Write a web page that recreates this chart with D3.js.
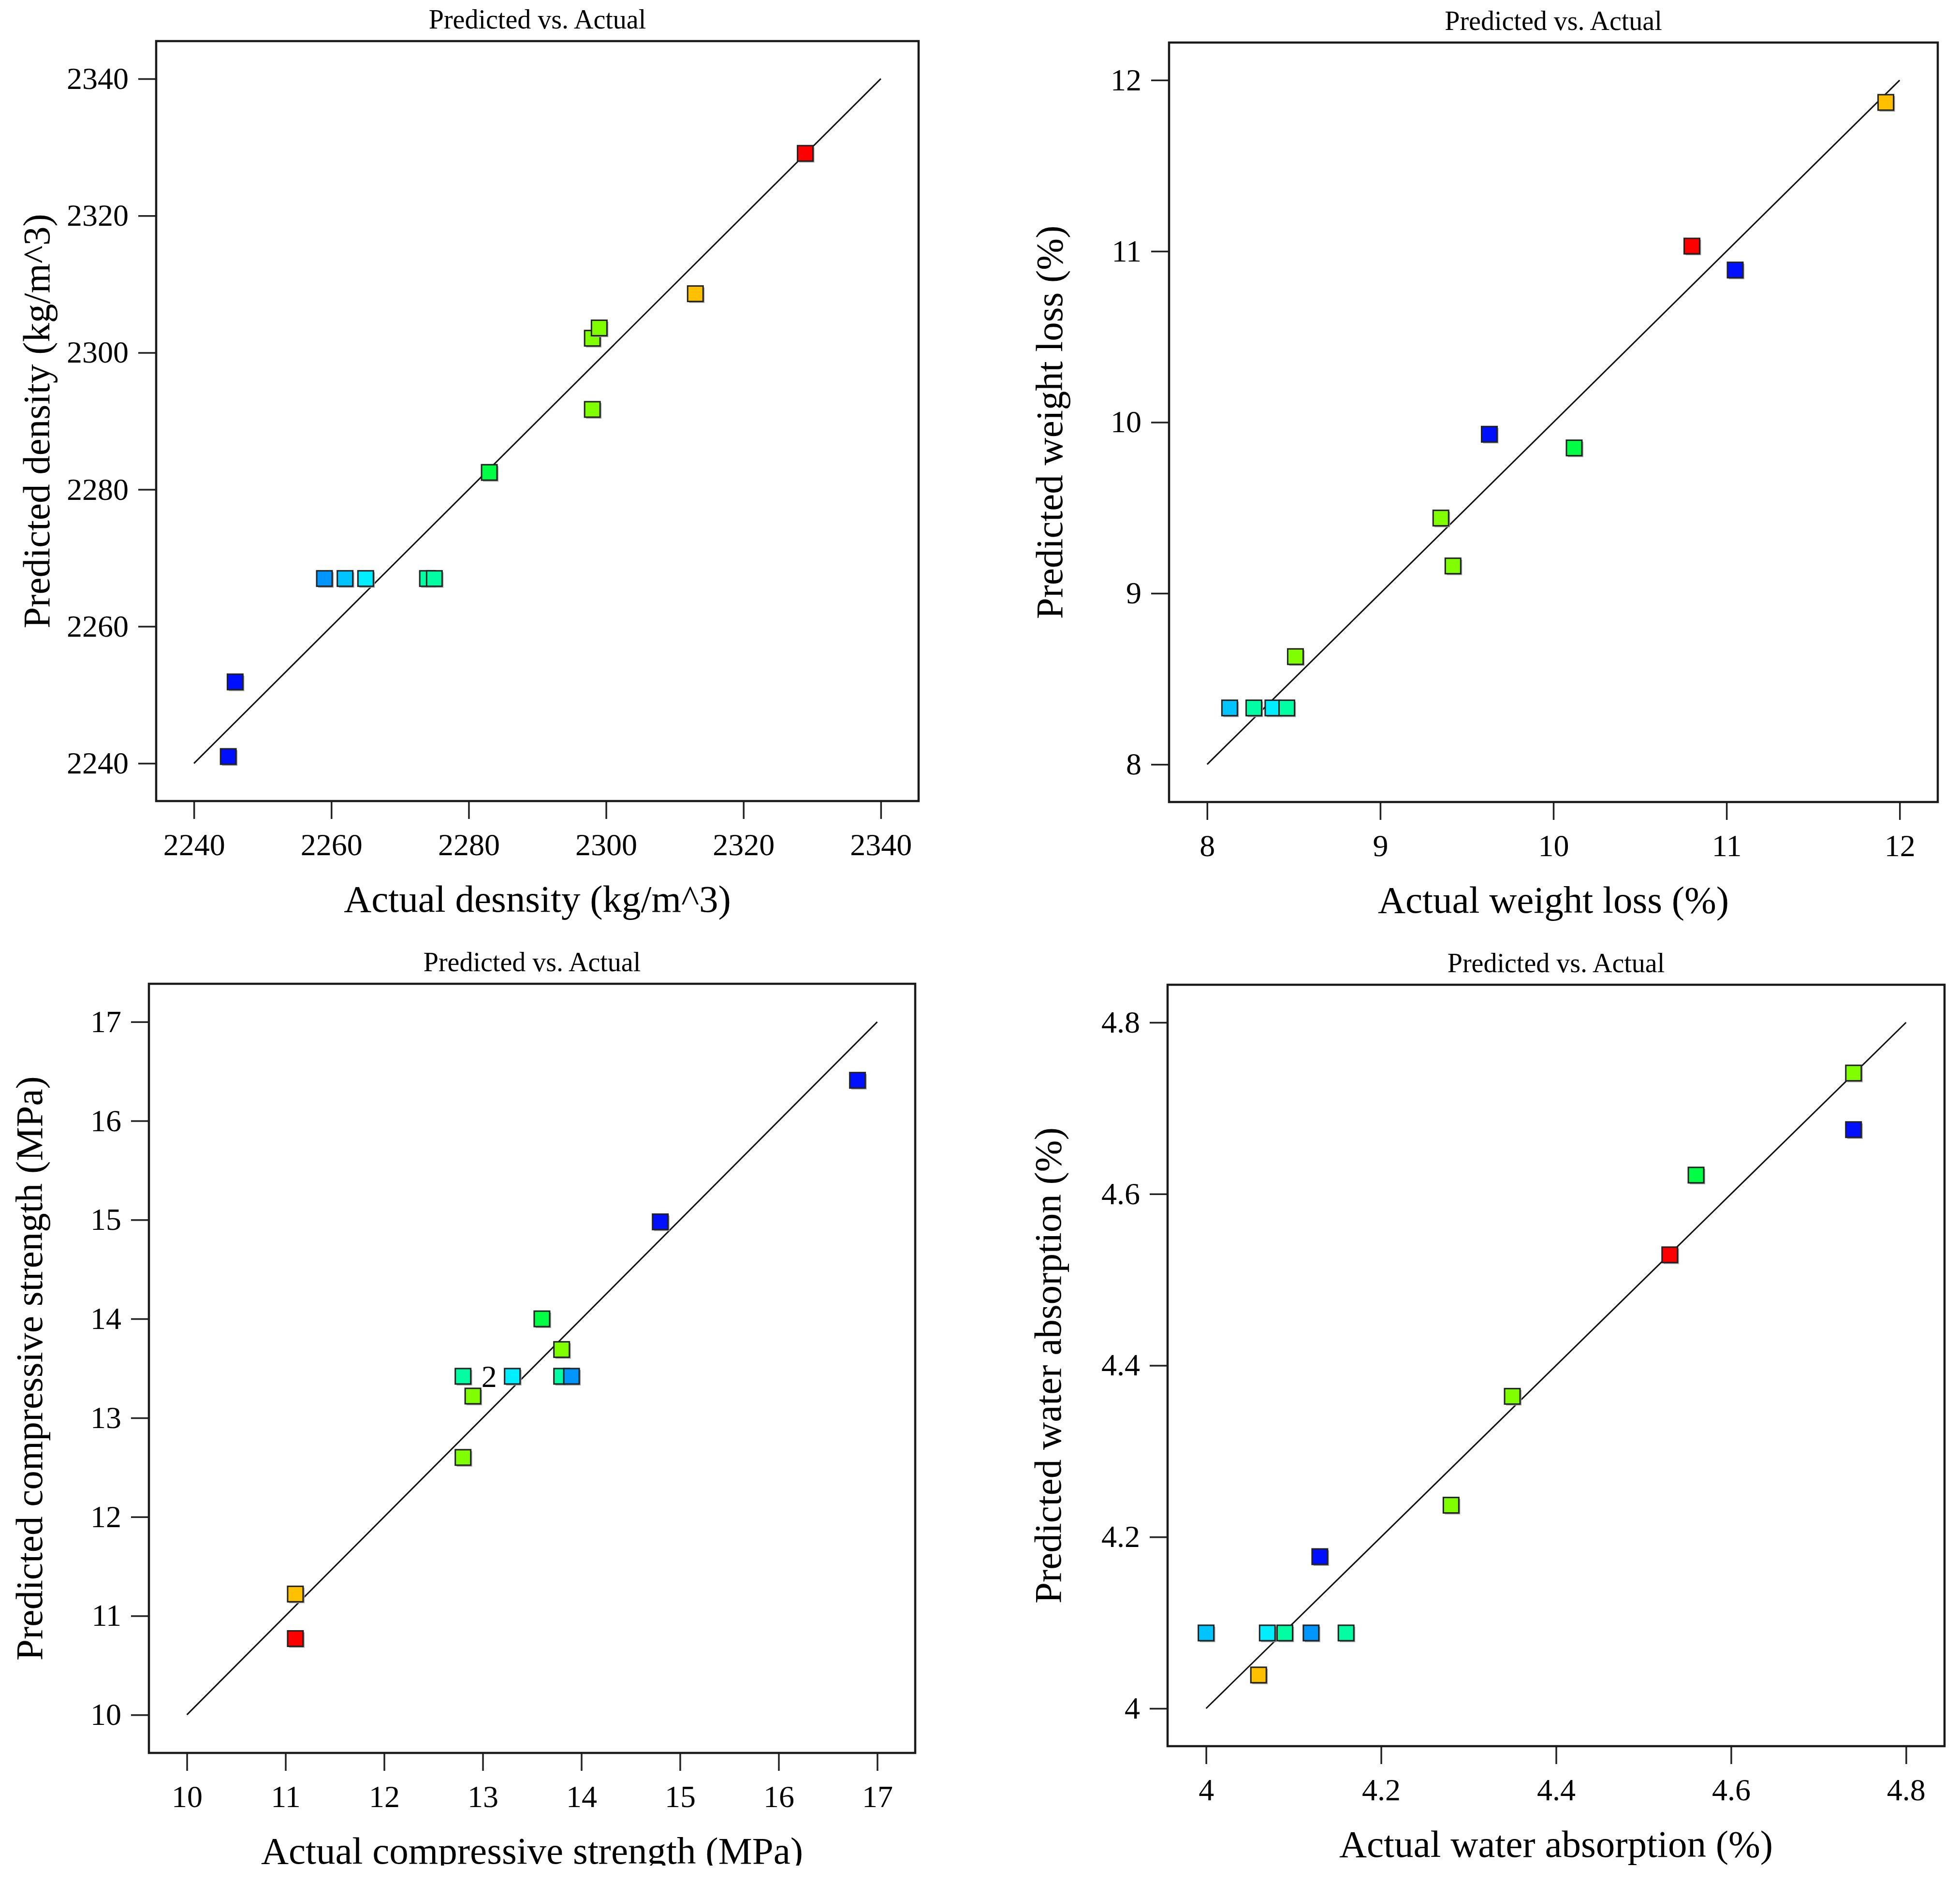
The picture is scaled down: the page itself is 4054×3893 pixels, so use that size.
<!DOCTYPE html>
<html>
<head>
<meta charset="utf-8">
<script src="https://cdn.jsdelivr.net/npm/d3@7/dist/d3.min.js"></script>
<style>
  html, body { margin: 0; padding: 0; background: #fff; }
  svg { display: block; }
</style>
</head>
<body>
<svg id="sv" width="4054" height="3893"></svg>
<script>
const densityActual = [2245, 2246, 2259, 2262, 2265, 2274, 2275, 2283, 2298, 2298, 2299, 2313, 2329];
const densityPred   = [2241.0, 2251.9, 2267.0, 2267.0, 2267.0, 2267.0, 2267.0, 2282.5, 2291.7, 2302.1, 2303.6, 2308.6, 2329.1];
const densityGroup  = [0, 0, 1, 2, 3, 4, 4, 5, 6, 6, 6, 7, 8];
const densityTicks  = [2240, 2260, 2280, 2300, 2320, 2340];

const weightActual = [8.13, 8.27, 8.38, 8.46, 8.51, 9.35, 9.42, 9.63, 10.12, 10.80, 11.05, 11.92];
const weightPred   = [8.33, 8.33, 8.33, 8.33, 8.63, 9.44, 9.16, 9.93, 9.85, 11.03, 10.89, 11.87];
const weightGroup  = [2, 4, 3, 4, 6, 6, 6, 0, 5, 8, 0, 7];
const weightTicks  = [8, 9, 10, 11, 12];

const strengthActual = [11.1, 11.1, 12.8, 12.8, 12.9, 13.3, 13.6, 13.8, 13.8, 13.9, 14.8, 16.8];
const strengthPred   = [11.22, 10.77, 12.60, 13.42, 13.22, 13.42, 14.00, 13.69, 13.42, 13.42, 14.98, 16.41];
const strengthGroup  = [7, 8, 6, 4, 6, 3, 5, 6, 4, 1, 0, 0];
const strengthCount  = [1, 1, 1, 2, 1, 1, 1, 1, 1, 1, 1, 1];
const strengthTicks  = [10, 11, 12, 13, 14, 15, 16, 17];

const waterActual = [4.00, 4.06, 4.07, 4.09, 4.12, 4.13, 4.16, 4.28, 4.35, 4.53, 4.56, 4.74, 4.74];
const waterPred   = [4.088, 4.039, 4.088, 4.088, 4.088, 4.177, 4.088, 4.237, 4.364, 4.529, 4.622, 4.675, 4.741];
const waterGroup  = [2, 7, 3, 4, 1, 0, 4, 6, 6, 8, 5, 0, 6];
const waterTicks  = [4, 4.2, 4.4, 4.6, 4.8];

const titleText = "Predicted vs. Actual";
const groupColors = ["#0010ff", "#0096ff", "#00c4ff", "#00eeff", "#00ffa2", "#00ff44", "#80ff00", "#ffc000", "#ff0000"];

// layout
const panels = [
  { box: [323, 1900, 85, 1657], xs: densityActual, ys: densityPred, grp: densityGroup, ticks: densityTicks,
    xl: "Actual desnsity (kg/m^3)", yl: "Predicted density (kg/m^3)" },
  { box: [2418, 4008, 88, 1659], xs: weightActual, ys: weightPred, grp: weightGroup, ticks: weightTicks,
    xl: "Actual weight loss (%)", yl: "Predicted weight loss (%)" },
  { box: [308, 1893, 2035, 3626], xs: strengthActual, ys: strengthPred, grp: strengthGroup, ticks: strengthTicks,
    xl: "Actual compressive strength (MPa)", yl: "Predicted compressive strength (MPa)", cnt: strengthCount, clipY: 3859 },
  { box: [2415, 4022, 2037, 3612], xs: waterActual, ys: waterPred, grp: waterGroup, ticks: waterTicks,
    xl: "Actual water absorption (%)", yl: "Predicted water absorption (%)" }
];

const FONT = "'Liberation Serif', 'Times New Roman', serif";
const color = d3.scaleOrdinal().domain(d3.range(groupColors.length)).range(groupColors);
const svg = d3.select("#sv");
svg.append("rect").attr("width", 4054).attr("height", 3893).attr("fill", "#fff");
const defs = svg.append("defs");
const fmt = d => String(+d.toFixed(2));
const M = 32;

panels.forEach((p, k) => {
  const [L, R, T, B] = p.box;
  const lo = d3.min(p.ticks), hi = d3.max(p.ticks), pad = (hi - lo) * 0.055;
  const x = d3.scaleLinear().domain([lo - pad, hi + pad]).range([L, R]);
  const y = d3.scaleLinear().domain([lo - pad, hi + pad]).range([B, T]);
  const g = svg.append("g");

  // axes (ticks outside the frame)
  const ax = g.append("g").attr("transform", `translate(0,${B})`)
    .call(d3.axisBottom(x).tickValues(p.ticks).tickFormat(fmt).tickSize(37).tickSizeOuter(0).tickPadding(30));
  const ay = g.append("g").attr("transform", `translate(${L},0)`)
    .call(d3.axisLeft(y).tickValues(p.ticks).tickFormat(fmt).tickSize(37).tickSizeOuter(0).tickPadding(20));
  [ax, ay].forEach(a => {
    a.select(".domain").remove();
    a.selectAll(".tick line").attr("stroke", "#222").attr("stroke-width", 3.5);
    a.selectAll(".tick text").attr("font-family", FONT).attr("font-size", 64).attr("fill", "#000");
  });

  // frame
  g.append("rect").attr("x", L).attr("y", T).attr("width", R - L).attr("height", B - T)
    .attr("fill", "none").attr("stroke", "#1a1a1a").attr("stroke-width", 4.5);

  // title
  g.append("text").attr("x", (L + R) / 2).attr("y", T - 26).attr("text-anchor", "middle")
    .attr("font-family", FONT).attr("font-size", 56).text(titleText);

  // axis titles
  const xt = g.append("text").attr("x", (L + R) / 2).attr("y", B + 229).attr("text-anchor", "middle")
    .attr("font-family", FONT).attr("font-size", 79).text(p.xl);
  if (p.clipY) {
    defs.append("clipPath").attr("id", "cx" + k).append("rect")
      .attr("x", 0).attr("y", 0).attr("width", 4054).attr("height", p.clipY);
    xt.attr("clip-path", `url(#cx${k})`);
  }
  g.append("text").attr("transform", `translate(${L - 221},${(T + B) / 2}) rotate(-90)`)
    .attr("text-anchor", "middle").attr("font-family", FONT).attr("font-size", 79).text(p.yl);

  // 1:1 line
  g.append("line").attr("x1", x(lo)).attr("y1", y(lo)).attr("x2", x(hi)).attr("y2", y(hi))
    .attr("stroke", "#111").attr("stroke-width", 3);

  // points
  const pts = p.xs.map((v, i) => ({ a: v, b: p.ys[i], c: p.grp[i], n: p.cnt ? p.cnt[i] : 1 }));
  const pg = g.append("g").selectAll("g").data(pts).enter().append("g")
    .attr("transform", d => `translate(${x(d.a)},${y(d.b)})`);
  pg.append("rect").attr("x", -M / 2 + 3).attr("y", -M / 2 + 3).attr("width", M).attr("height", M)
    .attr("fill", "#a8a8a8");
  pg.append("rect").attr("x", -M / 2).attr("y", -M / 2).attr("width", M).attr("height", M)
    .attr("fill", d => color(d.c)).attr("stroke", "#222").attr("stroke-width", 3);
  pg.filter(d => d.n > 1).append("text").attr("x", 38).attr("dy", "0.35em")
    .attr("font-family", FONT).attr("font-size", 64).text(d => d.n);
});
</script>
</body>
</html>
